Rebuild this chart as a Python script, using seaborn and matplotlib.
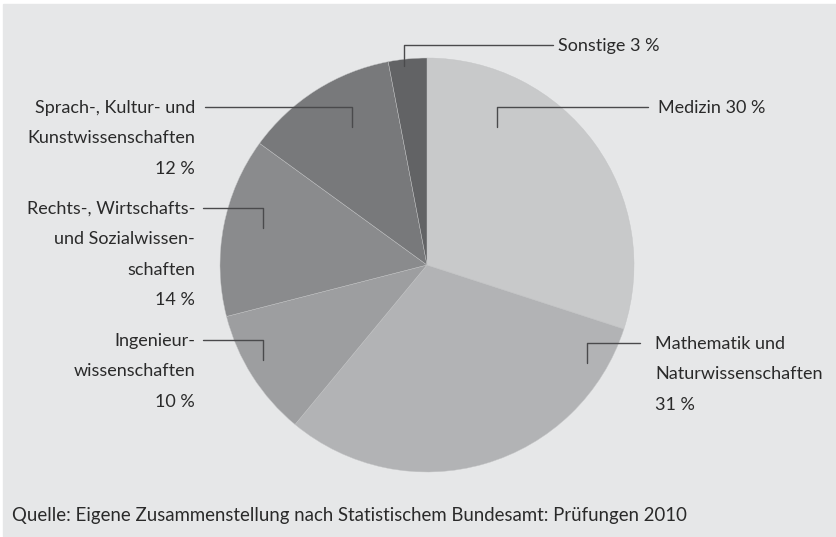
import matplotlib
matplotlib.use("Agg")
import matplotlib.pyplot as plt
import seaborn as sns

# Prüfungen 2010 nach Fächergruppen (Anteile in %)
categories = ["Medizin", "Mathematik und\nNaturwissenschaften", "Ingenieur-\nwissenschaften",
              "Rechts-, Wirtschafts-\nund Sozialwissen-\nschaften",
              "Sprach-, Kultur- und\nKunstwissenschaften", "Sonstige"]
shares = [30, 31, 10, 14, 12, 3]
colors = ["#c8c9ca", "#b2b3b5", "#9d9ea0", "#8a8b8d", "#78797b", "#626365"]
source = "Quelle: Eigene Zusammenstellung nach Statistischem Bundesamt: Prüfungen 2010"

sns.set_theme(style="white")
plt.rcParams['font.family'] = ['Lato', 'DejaVu Sans']

W, H = 837, 537
CX, CY, R = 427, 265, 207

def px(x, y):
    # Pixel -> Datenkoordinaten (Kreisradius = 1)
    return (x - CX) / R, (CY - y) / R

fig = plt.figure(figsize=(W / 100, H / 100), dpi=100, facecolor="white")
ax = fig.add_axes([0, 0, 1, 1])
ax.axis("off")

# grauer Hintergrund
bx, by = px(3, 4)
ex, ey = px(W, H)
ax.add_patch(plt.Rectangle((bx, ey), ex - bx, by - ey, color="#e6e7e8", zorder=0))

ax.pie(shares, colors=colors, startangle=90, counterclock=False, radius=1,
       wedgeprops=dict(edgecolor="#c4c5c6", linewidth=0.3, zorder=1))

ax.set_xlim(px(0, 0)[0], px(W, 0)[0])
ax.set_ylim(px(0, H)[1], px(0, 0)[1])
ax.set_aspect("auto")

line_kw = dict(color="#4a4a4c", linewidth=1.0, zorder=3)
txt_kw = dict(fontsize=13, color="#2a2a2a", linespacing=2.1, zorder=4)

# Führungslinien: (Knick x, Linie y, Ende vertikal y, Linienende x, Textanker x, Ausrichtung)
leaders = [
    (497, 107, 127, 648, 658, "left"),     # Medizin
    (587, 343, 363, 640, 655, "left"),     # Mathematik
    (263, 340, 360, 203, 195, "right"),    # Ingenieur
    (263, 208, 228, 203, 195, "right"),    # Rechts
    (352, 107, 127, 205, 195, "right"),    # Sprach
    (404, 45, 66, 553, 558, "left"),       # Sonstige
]

for cat, val, (kx, ly, vy, lx, tx, ha) in zip(categories, shares, leaders):
    x0, y0 = px(kx, vy)
    x1, y1 = px(kx, ly)
    x2, _ = px(lx, ly)
    ax.plot([x0, x1, x2], [y0, y1, y1], **line_kw)
    if cat in ("Medizin", "Sonstige"):
        label = f"{cat} {val} %"
    else:
        label = f"{cat}\n{val} %"
    tx_, ty_ = px(tx, ly - 7)
    ax.text(tx_, ty_, label, ha=ha, va="top", multialignment=ha, **txt_kw)

sx, sy = px(12, 515)
ax.text(sx, sy, source, ha="left", va="center", fontsize=13.4, color="#2a2a2a")

plt.savefig("out.png", dpi=100, facecolor="white")
